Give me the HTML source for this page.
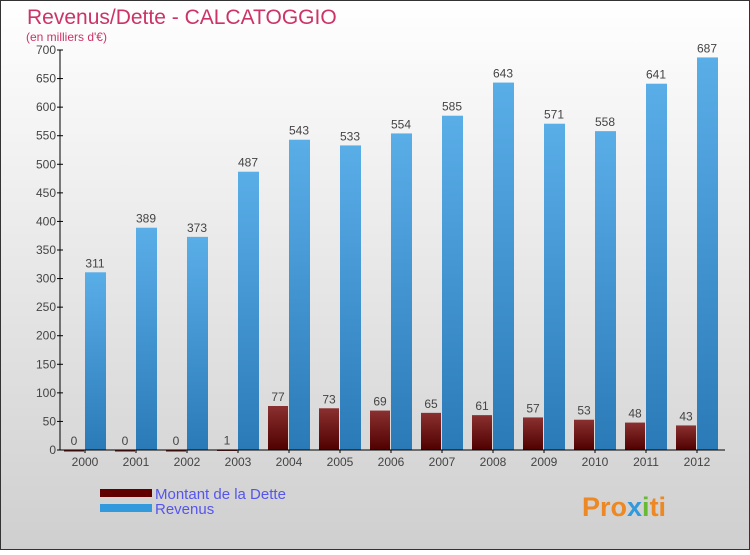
<!DOCTYPE html>
<html><head><meta charset="utf-8"><style>
body{margin:0;width:750px;height:550px;overflow:hidden;font-family:"Liberation Sans",sans-serif}
</style></head><body>
<svg width="750" height="550" xmlns="http://www.w3.org/2000/svg">
<defs>
<linearGradient id="bg" x1="0" y1="0" x2="0" y2="1"><stop offset="0" stop-color="#ffffff"/><stop offset="1" stop-color="#cfcfcf"/></linearGradient>
<linearGradient id="gb" x1="0" y1="0" x2="0" y2="1"><stop offset="0" stop-color="#5aaee8"/><stop offset="1" stop-color="#2a7ab8"/></linearGradient>
<linearGradient id="gr" x1="0" y1="0" x2="0" y2="1"><stop offset="0" stop-color="#8a3030"/><stop offset="1" stop-color="#500000"/></linearGradient>
</defs>
<rect x="0.5" y="0.5" width="749" height="549" fill="url(#bg)" stroke="#333"/>
<text x="27" y="24" font-size="21" fill="#cc3366">Revenus/Dette - CALCATOGGIO</text>
<text x="26" y="41" font-size="12" fill="#cc3366">(en milliers d'€)</text>
<g id="plot"></g>
<g>
<rect x="100" y="489" width="52" height="8" fill="#600000"/>
<text x="155" y="499" font-size="15" fill="#5555ee">Montant de la Dette</text>
<rect x="100" y="504" width="52" height="8" fill="#3399dd"/>
<text x="155" y="514" font-size="15" fill="#5555ee">Revenus</text>
</g>
<text x="582" y="516" font-size="27" font-weight="bold" fill="#ee8822">Pro<tspan fill="#3399dd">x</tspan><tspan fill="#66bb33">i</tspan>ti</text>
</svg>
<script>
const years=["2000","2001","2002","2003","2004","2005","2006","2007","2008","2009","2010","2011","2012"];
const dette=[0,0,0,1,77,73,69,65,61,57,53,48,43];
const revenus=[311,389,373,487,543,533,554,585,643,571,558,641,687];
const yTicks=[0,50,100,150,200,250,300,350,400,450,500,550,600,650,700];
const NS="http://www.w3.org/2000/svg";
const g=document.getElementById('plot');
const x0=60,y0=450,step=51,yMax=700,h=400;
const Y=v=>y0-v/yMax*h;
function mk(t,a,txt){const e=document.createElementNS(NS,t);for(const k in a)e.setAttribute(k,a[k]);if(txt!==undefined)e.textContent=txt;g.appendChild(e);return e;}
yTicks.forEach(v=>{
 const l=mk('line',{x1:x0-3,x2:x0+3,y1:Y(v),y2:Y(v),stroke:'#000'});
 
 
 const t=mk('text',{x:x0-4,y:Y(v)+4,'text-anchor':'end','font-size':12,fill:'#444'},v);
 
 
});
years.forEach((yr,i)=>{
 const gx=x0+i*step;
 const r=mk('rect',{x:gx+4,y:Y(dette[i]),width:20,height:Math.max(dette[i]/yMax*h,1.5),fill:'url(#gr)'});
 
 
 const b=mk('rect',{x:gx+25,y:Y(revenus[i]),width:21,height:revenus[i]/yMax*h,fill:'url(#gb)'});
 
 
 const t1=mk('text',{x:gx+14,y:Y(dette[i])-5,'text-anchor':'middle','font-size':12,fill:'#444'},dette[i]);
 
 
 const t2=mk('text',{x:gx+35,y:Y(revenus[i])-5,'text-anchor':'middle','font-size':12,fill:'#444'},revenus[i]);
 
 
 const xl=mk('text',{x:gx+25,y:466,'text-anchor':'middle','font-size':12,fill:'#444'},yr);
 
 
 const xt=mk('line',{x1:gx+25,x2:gx+25,y1:y0,y2:y0+3,stroke:'#000'});
 
 
});
const ya=mk('line',{x1:x0,x2:x0,y1:Y(700),y2:y0,stroke:'#000'});


const xa=mk('line',{x1:x0,x2:x0+years.length*step+2,y1:y0,y2:y0,stroke:'#000'});


</script>
</body></html>
